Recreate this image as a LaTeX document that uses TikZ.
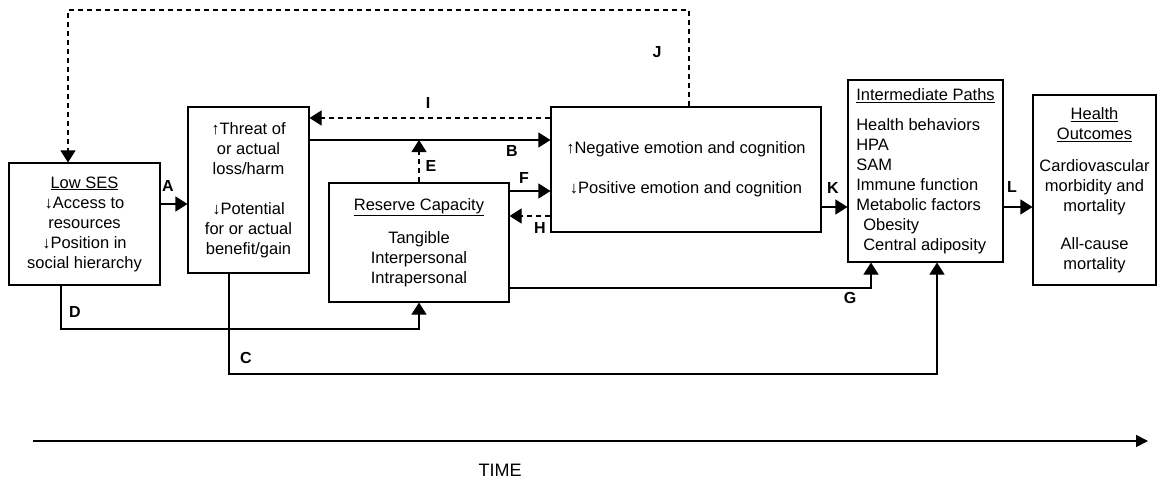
\documentclass[tikz,border=0pt]{standalone}
\usepackage{fontspec}
\setmainfont{Liberation Sans}
\usetikzlibrary{arrows.meta}

\begin{document}
\begin{tikzpicture}[x=1pt,y=-1pt,line width=1.1pt,
  box/.style={draw,rectangle,inner sep=0pt,align=center,font=\fontsize{16.5}{20}\selectfont},
  lbl/.style={inner sep=0pt,font=\fontsize{16}{19}\selectfont\bfseries},
  arr/.style={-{Triangle[length=12pt,width=15pt]}},
  darr/.style={arr,dash pattern=on 5pt off 4pt}]
\useasboundingbox (0,0) rectangle (1158,484);

\node[box,minimum width=151pt,minimum height=122pt] (lowses) at (84.5,224)
  {\underline{Low SES}\\↓Access to\\resources\\↓Position in\\social hierarchy};
\node[box,minimum width=121pt,minimum height=166pt] (threat) at (248.5,190)
  {↑Threat of\\or actual\\loss/harm\\[20pt]↓Potential\\for or actual\\benefit/gain};
\node[box,minimum width=180pt,minimum height=119pt] (reserve) at (419,242.5)
  {\underline{Reserve Capacity}\\[13pt]Tangible\\Interpersonal\\Intrapersonal};
\node[box,minimum width=270pt,minimum height=125pt] (emotion) at (686,169.5)
  {↑Negative emotion and cognition\\[20pt]↓Positive emotion and cognition};
\node[box,align=left,minimum width=155pt,minimum height=182pt] (inter) at (925.5,171)
  {\underline{Intermediate Paths}\\[10pt]Health behaviors\\HPA\\SAM\\Immune function\\Metabolic factors\\
   \hspace*{7pt}Obesity\\\hspace*{7pt}Central adiposity};
\node[box,minimum width=123pt,minimum height=190pt] (health) at (1094.5,190)
  {\underline{Health}\\\underline{Outcomes}\\[12pt]Cardiovascular\\morbidity and\\mortality\\[18pt]All-cause\\mortality};

\coordinate (ya) at (0,204);
\coordinate (yb) at (0,140);
\coordinate (yi) at (0,118);
\coordinate (yf) at (0,191);
\coordinate (yh) at (0,216);
\coordinate (yk) at (0,207);
\coordinate (yg) at (0,288);
\coordinate (yd) at (0,329);
\coordinate (yc) at (0,374);
\coordinate (jr) at (689,10);
\coordinate (jl) at (68,10);
\coordinate (xd) at (61,0);
\coordinate (xc) at (229,0);
\coordinate (xg) at (871,0);
\coordinate (xc2) at (937,0);

\draw[arr] (lowses.east |- ya) -- (threat.west |- ya);
\draw[arr] (threat.east |- yb) -- (emotion.west |- yb);
\draw[darr] (emotion.west |- yi) -- (threat.east |- yi);
\draw[darr] (reserve.north) -- (reserve.north |- yb);
\draw[arr] (reserve.east |- yf) -- (emotion.west |- yf);
\draw[darr] (emotion.west |- yh) -- (reserve.east |- yh);
\draw[darr] (emotion.north -| jr) -- (jr) -- (jl) -- (lowses.north -| jl);
\draw[arr] (emotion.east |- yk) -- (inter.west |- yk);
\draw[arr] (inter.east |- yk) -- (health.west |- yk);
\draw[arr] (reserve.east |- yg) -| (inter.south -| xg);
\draw[arr] (lowses.south -| xd) |- (reserve.south |- yd) -- (reserve.south);
\draw[arr] (threat.south -| xc) |- (yc -| xc2) -- (inter.south -| xc2);

\node[lbl] (la) at (168,186) {A};
\node[lbl] (lb) at (512,151) {B};
\node[lbl] (lc) at (246,358) {C};
\node[lbl] (ld) at (75,312) {D};
\node[lbl] (le) at (431,166) {E};
\node[lbl] (lf) at (524,178) {F};
\node[lbl] (lg) at (850,298) {G};
\node[lbl] (lh) at (540,228) {H};
\node[lbl] (li) at (428,103) {I};
\node[lbl] (lj) at (657,52) {J};
\node[lbl] (lk) at (833,188) {K};
\node[lbl] (ll) at (1012,187) {L};

\coordinate (t0) at (33,441);
\coordinate (t1) at (1148,441);
\draw[line width=1.7pt,-{Triangle[length=12pt,width=12pt]}] (t0) -- (t1);
\node[font=\fontsize{18}{21}\selectfont] (time) at (500,470) {TIME};
\end{tikzpicture}
\end{document}
